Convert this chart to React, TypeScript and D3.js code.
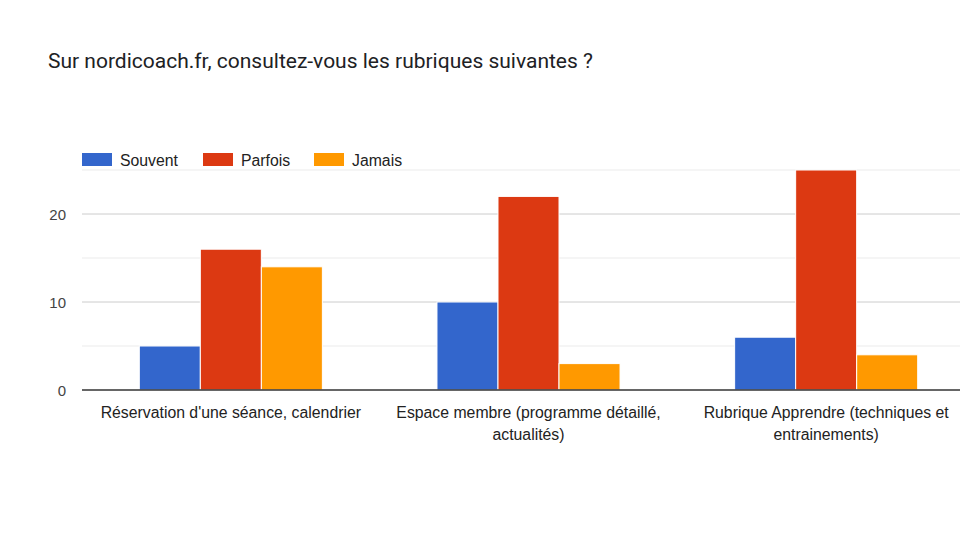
import { useEffect, useRef } from 'react'
import * as d3 from 'd3'

const TITLE = 'Sur nordicoach.fr, consultez-vous les rubriques suivantes ?'
const CATEGORIES = [
  "Réservation d'une séance, calendrier",
  'Espace membre (programme détaillé, actualités)',
  'Rubrique Apprendre (techniques et entrainements)',
]
const SERIES = ['Souvent', 'Parfois', 'Jamais']
const COLORS = ['#3366cc', '#dc3912', '#ff9900']
const SOUVENT = [5, 10, 6]
const PARFOIS = [16, 22, 25]
const JAMAIS = [14, 3, 4]
const MAJOR_TICKS = [0, 10, 20]
const MINOR_TICKS = [5, 15, 25]

const TITLE_FONT = 'Roboto, Arial, sans-serif'
const FONT = '"Liberation Sans", Arial, sans-serif'

export default function App() {
  const svgRef = useRef<SVGSVGElement>(null)

  useEffect(() => {
    if (!svgRef.current) return
    const W = 960
    const H = 540
    const margin = { top: 170, right: -15, bottom: 150, left: 82 }
    const w = W - margin.left - margin.right
    const h = H - margin.top - margin.bottom

    const svg = d3.select(svgRef.current)
    svg.selectAll('*').remove()

    svg.append('rect').attr('width', W).attr('height', H).attr('fill', '#fff')

    svg.append('text')
      .attr('x', 48).attr('y', 68)
      .attr('fill', '#202124').attr('font-size', '21px')
      .attr('font-family', TITLE_FONT)
      .text(TITLE)

    const g = svg.append('g').attr('transform', `translate(${margin.left},${margin.top})`)
      .attr('font-family', FONT)

    const y = d3.scaleLinear().domain([0, 25]).range([h, 0])
    const x0 = d3.scaleBand().domain(CATEGORIES).range([0, w]).paddingInner(0.385).paddingOuter(0.1925)
    const x1 = d3.scaleBand().domain(SERIES).range([0, x0.bandwidth()]).padding(0)

    // Minor gridlines
    g.append('g').selectAll('line')
      .data(MINOR_TICKS).enter().append('line')
      .attr('x1', 0).attr('x2', w)
      .attr('y1', d => y(d)).attr('y2', d => y(d))
      .attr('stroke', '#ebebeb').attr('stroke-width', 1)

    // Major gridlines
    g.append('g').selectAll('line')
      .data(MAJOR_TICKS.filter(d => d > 0)).enter().append('line')
      .attr('x1', 0).attr('x2', w)
      .attr('y1', d => y(d)).attr('y2', d => y(d))
      .attr('stroke', '#cccccc').attr('stroke-width', 1)

    // Y axis labels
    g.append('g').selectAll('text')
      .data(MAJOR_TICKS).enter().append('text')
      .attr('x', -16).attr('y', d => y(d))
      .attr('text-anchor', 'end').attr('dominant-baseline', 'central')
      .attr('fill', '#444').attr('font-size', '15px')
      .text(d => d)

    // Bars
    const values = [SOUVENT, PARFOIS, JAMAIS]
    SERIES.forEach((s, si) => {
      CATEGORIES.forEach((c, ci) => {
        const v = values[si][ci]
        g.append('rect')
          .attr('x', (x0(c) ?? 0) + (x1(s) ?? 0))
          .attr('y', y(v))
          .attr('width', x1.bandwidth())
          .attr('height', h - y(v))
          .attr('fill', COLORS[si])
          .attr('stroke', '#fff').attr('stroke-width', 1)
      })
    })

    // Baseline
    g.append('line')
      .attr('x1', 0).attr('x2', w)
      .attr('y1', y(0)).attr('y2', y(0))
      .attr('stroke', '#333').attr('stroke-width', 1.5)

    // Category labels, wrapped
    CATEGORIES.forEach(c => {
      const cx = (x0(c) ?? 0) + x0.bandwidth() / 2
      const t = g.append('text')
        .attr('text-anchor', 'middle')
        .attr('fill', '#222').attr('font-size', '15.8px')
      const words = c.split(' ')
      const lines: string[] = []
      let line = ''
      const probe = g.append('text').attr('font-size', '15.8px')
      words.forEach(wd => {
        const test = line ? `${line} ${wd}` : wd
        probe.text(test)
        const len = (probe.node() as SVGTextElement).getComputedTextLength()
        if (len > 285 && line) {
          lines.push(line)
          line = wd
        } else {
          line = test
        }
      })
      lines.push(line)
      probe.remove()
      lines.forEach((l, i) => {
        t.append('tspan').attr('x', cx).attr('y', h + 28 + i * 22).text(l)
      })
    })

    // Legend
    const legendX = [0, 121, 232]
    SERIES.forEach((s, i) => {
      g.append('rect')
        .attr('x', legendX[i]).attr('y', -17)
        .attr('width', 30).attr('height', 13)
        .attr('fill', COLORS[i])
      g.append('text')
        .attr('x', legendX[i] + 38).attr('y', -10)
        .attr('dominant-baseline', 'central')
        .attr('fill', '#222').attr('font-size', '15.8px')
        .text(s)
    })
  }, [])

  return (
    <svg ref={svgRef} width={960} height={540}
      style={{ display: 'block', position: 'absolute', left: 0, top: 0 }} />
  )
}
